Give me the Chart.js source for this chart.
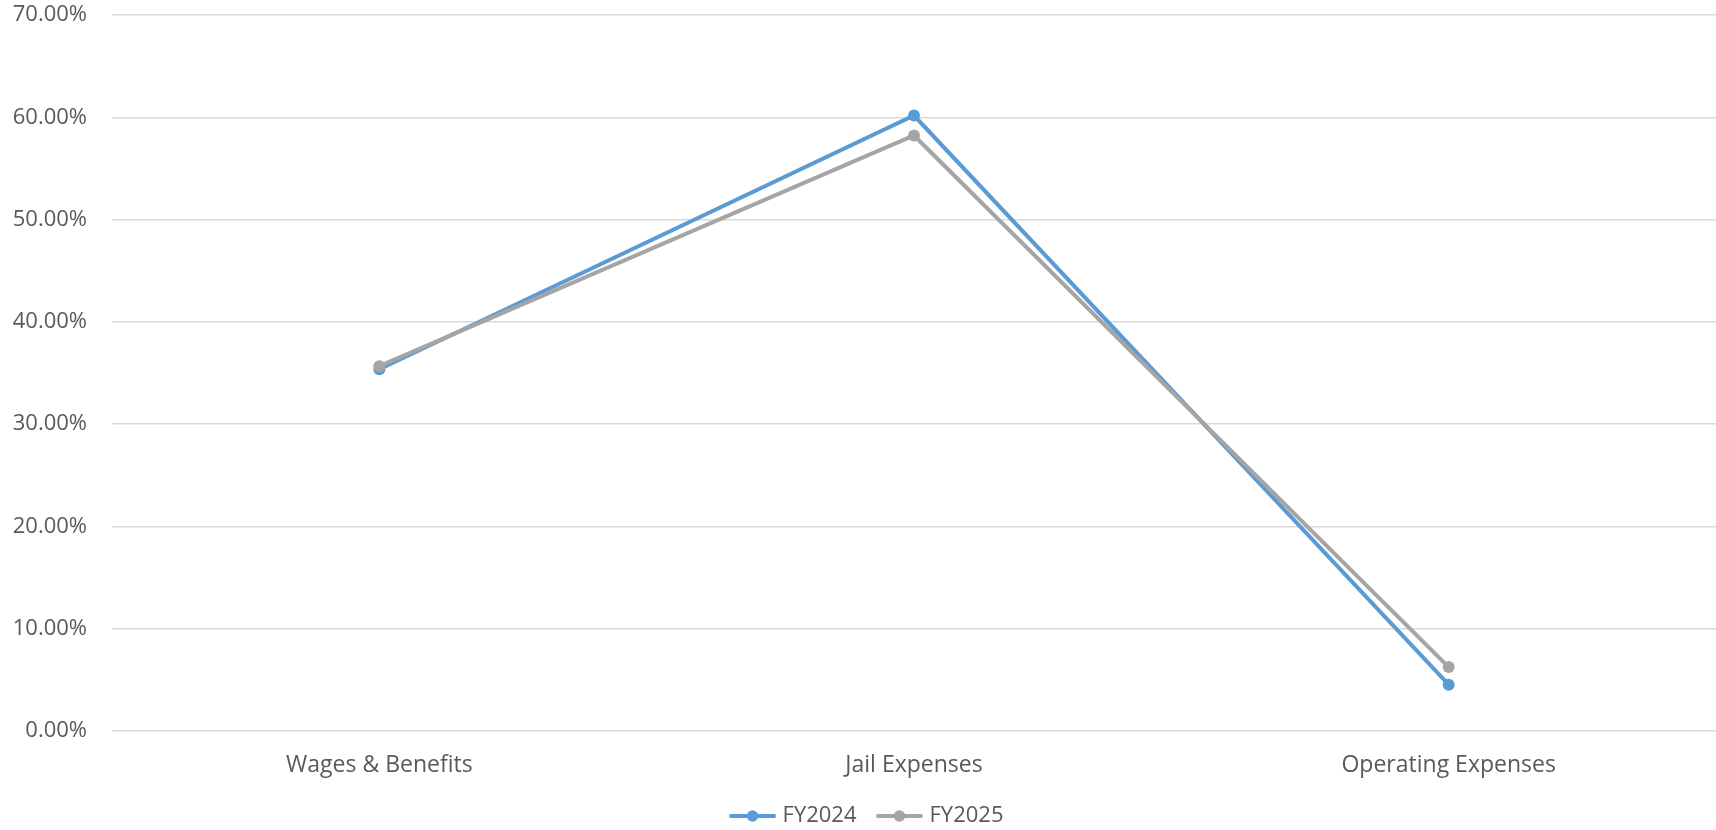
<!DOCTYPE html>
<html>
<head>
<meta charset="utf-8">
<title>Expense share by category</title>
<script src="https://cdn.jsdelivr.net/npm/chart.js@4.4.1/dist/chart.umd.min.js"></script>
<style>
  html, body { margin: 0; padding: 0; background: #ffffff; }
  #wrap { width: 1716px; height: 830px; }
</style>
</head>
<body>
<div id="wrap"><canvas id="chart" width="1716" height="830"></canvas></div>
<script>
// Share of total spending per category, in percent
const categories = ['Wages & Benefits', 'Jail Expenses', 'Operating Expenses'];
const fy2024 = [35.36, 60.17, 4.53];
const fy2025 = [35.67, 58.22, 6.25];
const seriesNames = ['FY2024', 'FY2025'];
const seriesColors = ['#5B9BD5', '#A5A5A5'];
const yMax = 70;
const yStep = 10;

const textColor = '#595959';
const fontFamily = "'Open Sans', 'Liberation Sans', sans-serif";

// Legend swatch: a short line with a round marker in the middle
function legendSwatch(color) {
  const c = document.createElement('canvas');
  c.width = 68; c.height = 14;
  const g = c.getContext('2d');
  g.strokeStyle = color;
  g.lineWidth = 4;
  g.lineCap = 'round';
  g.beginPath();
  g.moveTo(23, 7); g.lineTo(66, 7);
  g.stroke();
  g.fillStyle = color;
  g.beginPath();
  g.arc(44.5, 7, 5.8, 0, Math.PI * 2);
  g.fill();
  return c;
}
const swatches = seriesColors.map(legendSwatch);

const chart = new Chart(document.getElementById('chart'), {
  type: 'line',
  data: {
    labels: categories,
    datasets: [
      {
        label: seriesNames[0],
        data: fy2024,
        borderColor: seriesColors[0],
        backgroundColor: seriesColors[0],
        borderWidth: 4,
        pointRadius: 6,
        pointBorderWidth: 0,
        pointBackgroundColor: seriesColors[0],
        tension: 0,
        order: 1
      },
      {
        label: seriesNames[1],
        data: fy2025,
        borderColor: seriesColors[1],
        backgroundColor: seriesColors[1],
        borderWidth: 4,
        pointRadius: 6,
        pointBorderWidth: 0,
        pointBackgroundColor: seriesColors[1],
        tension: 0,
        order: 0
      }
    ]
  },
  options: {
    responsive: false,
    animation: false,
    layout: { autoPadding: false, padding: { top: 15, left: 0, right: 0, bottom: -7 } },
    scales: {
      x: {
        offset: true,
        grid: { display: false, drawTicks: false },
        border: { display: false },
        ticks: {
          color: textColor,
          font: { family: fontFamily, size: 23 },
          padding: 21,
          maxRotation: 0
        },
        afterFit: (s) => { s.height = 71; s.paddingLeft = 0; s.paddingRight = 0; }
      },
      y: {
        min: 0,
        max: yMax,
        grid: { color: '#D9D9D9', lineWidth: 1.5, drawTicks: false },
        border: { display: false },
        ticks: {
          stepSize: yStep,
          color: textColor,
          font: { family: fontFamily, size: 22 },
          padding: 25,
          callback: (v) => v.toFixed(2) + '%'
        },
        afterFit: (s) => { s.width = 112; s.paddingTop = 0; s.paddingBottom = 0; }
      }
    },
    plugins: {
      tooltip: { enabled: false },
      legend: {
        position: 'bottom',
        labels: {
          usePointStyle: true,
          pointStyleWidth: 59,
          padding: 3,
          color: textColor,
          font: { family: fontFamily, size: 22 },
          sort: (a, b) => a.datasetIndex - b.datasetIndex,
          generateLabels: (ch) => {
            const items = Chart.defaults.plugins.legend.labels.generateLabels(ch);
            items.forEach((it) => { it.pointStyle = swatches[it.datasetIndex]; });
            return items;
          }
        }
      }
    }
  }
});
</script>
</body>
</html>
